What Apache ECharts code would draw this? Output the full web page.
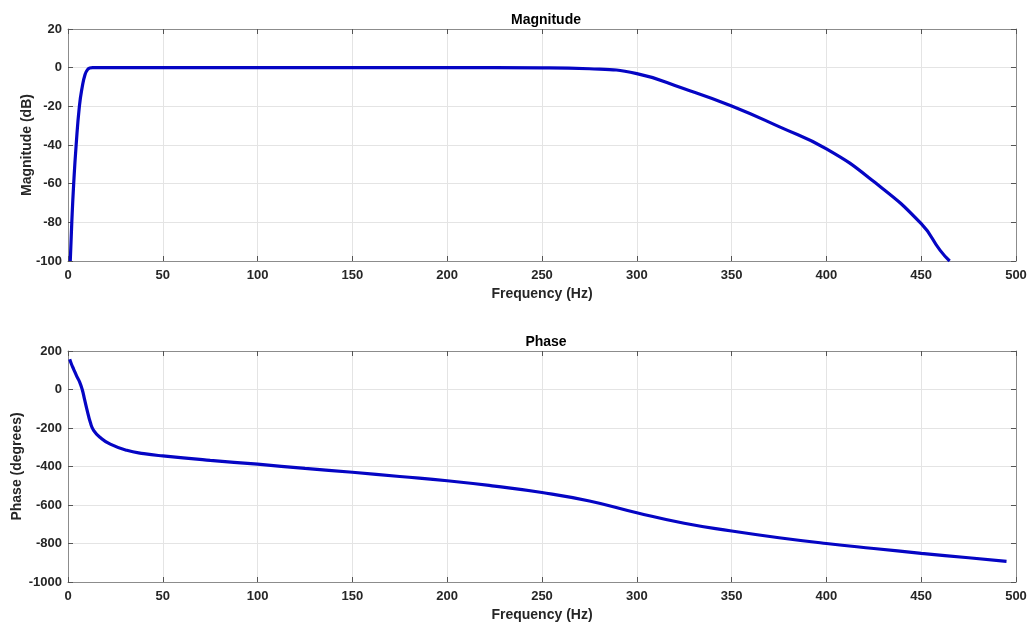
<!DOCTYPE html>
<html>
<head>
<meta charset="utf-8">
<title>Magnitude / Phase</title>
<script src="https://cdn.jsdelivr.net/npm/echarts@6/dist/echarts.min.js"></script>
<style>
  html, body { margin: 0; padding: 0; background: #fff; }
  #chart { width: 1029px; height: 626px; }
</style>
</head>
<body>
<div id="chart"></div>
<script>
// magnitude response
const magFreq = [1.2, 2.0, 3.0, 4.3, 6.0, 7.5, 9, 10.3, 11.5, 13, 50, 100, 150, 200, 250, 275, 300, 325, 350, 375, 400, 425, 450, 460, 465];
const magDb   = [-100, -80, -60, -40, -20, -10, -3.5, -1, -0.2, 0, 0, 0, 0, 0, -0.1, -0.55, -3.1, -10.9, -19.8, -30.5, -42, -58.9, -80.7, -94.5, -100];

// phase response
const phaseFreq = [0.9, 1.7, 3, 4.7, 6.1, 7.5, 8.7, 10, 11.8, 13.5, 17, 22.3, 31, 40, 50, 75, 100, 125, 150, 175, 200, 225, 250, 275, 300, 325, 350, 375, 400, 425, 450, 475, 495];
const phaseDeg  = [157, 135, 105, 67, 40, 0, -50, -104, -172, -212, -249, -284, -316, -333, -345, -368, -388, -410, -430, -452, -474, -502, -535, -579, -640, -695, -735, -770, -800, -826, -851, -874, -893];

const chart = echarts.init(document.getElementById('chart'));

const FONT = 'Liberation Sans, Arial, sans-serif';
const TXT = '#262626';
const BOX = '#8c8c8c';
const GRID = '#e4e4e4';
const LINE = '#0505c4';

const grids = [
  {left: 68, right: 13, top: 29, height: 232, outerBoundsMode: 'none'},
  {left: 68, right: 13, top: 351, height: 231, outerBoundsMode: 'none'}
];

function xAxes(gi) {
  return [
    {
      type: 'value', gridIndex: gi, min: 0, max: 500, interval: 50,
      name: 'Frequency (Hz)', nameLocation: 'middle', nameGap: 26, nameMoveOverlap: false,
      nameTextStyle: {color: TXT, fontSize: 14, fontWeight: 'bold', fontFamily: FONT},
      axisLine: {onZero: false, lineStyle: {color: BOX, width: 1}},
      axisTick: {inside: true, length: 5, lineStyle: {color: '#555'}},
      axisLabel: {color: TXT, fontSize: 13, fontWeight: 'bold', fontFamily: FONT, margin: 8,
        formatter: (v) => String(v)},
      splitLine: {show: true, lineStyle: {color: GRID}}
    },
    {
      type: 'value', gridIndex: gi, position: 'top', min: 0, max: 500, interval: 50,
      axisLine: {onZero: false, lineStyle: {color: BOX, width: 1}},
      axisTick: {inside: true, length: 5, lineStyle: {color: '#555'}},
      axisLabel: {show: false},
      splitLine: {show: false}
    }
  ];
}

function yAxes(gi, min, max, interval, name, gap) {
  return [
    {
      type: 'value', gridIndex: gi, min: min, max: max, interval: interval,
      name: name, nameLocation: 'middle', nameGap: gap, nameMoveOverlap: false,
      nameTextStyle: {color: TXT, fontSize: 14, fontWeight: 'bold', fontFamily: FONT},
      axisLine: {show: true, onZero: false, lineStyle: {color: BOX, width: 1}},
      axisTick: {show: true, inside: true, length: 5, lineStyle: {color: '#555'}},
      axisLabel: {color: TXT, fontSize: 13, fontWeight: 'bold', fontFamily: FONT, margin: 6,
        formatter: (v) => String(v)},
      splitLine: {show: true, lineStyle: {color: GRID}}
    },
    {
      type: 'value', gridIndex: gi, position: 'right', min: min, max: max, interval: interval,
      axisLine: {show: true, onZero: false, lineStyle: {color: BOX, width: 1}},
      axisTick: {show: true, inside: true, length: 5, lineStyle: {color: '#555'}},
      axisLabel: {show: false},
      splitLine: {show: false}
    }
  ];
}

const option = {
  backgroundColor: '#fff',
  animation: false,
  title: [
    {text: 'Magnitude', left: 541, top: 8, textAlign: 'center',
      textStyle: {color: '#000', fontSize: 14, fontWeight: 'bold', fontFamily: FONT}},
    {text: 'Phase', left: 541, top: 330, textAlign: 'center',
      textStyle: {color: '#000', fontSize: 14, fontWeight: 'bold', fontFamily: FONT}}
  ],
  grid: grids,
  xAxis: [...xAxes(0), ...xAxes(1)],
  yAxis: [
    ...yAxes(0, -100, 20, 20, 'Magnitude (dB)', 34),
    ...yAxes(1, -1000, 200, 200, 'Phase (degrees)', 44)
  ],
  series: [
    {
      type: 'line', xAxisIndex: 0, yAxisIndex: 0,
      data: magFreq.map((f, i) => [f, magDb[i]]),
      showSymbol: false, smooth: 0.5,
      lineStyle: {color: LINE, width: 3.2}
    },
    {
      type: 'line', xAxisIndex: 2, yAxisIndex: 2,
      data: phaseFreq.map((f, i) => [f, phaseDeg[i]]),
      showSymbol: false, smooth: 0.5,
      lineStyle: {color: LINE, width: 3.2}
    }
  ]
};

chart.setOption(option);
</script>
</body>
</html>
